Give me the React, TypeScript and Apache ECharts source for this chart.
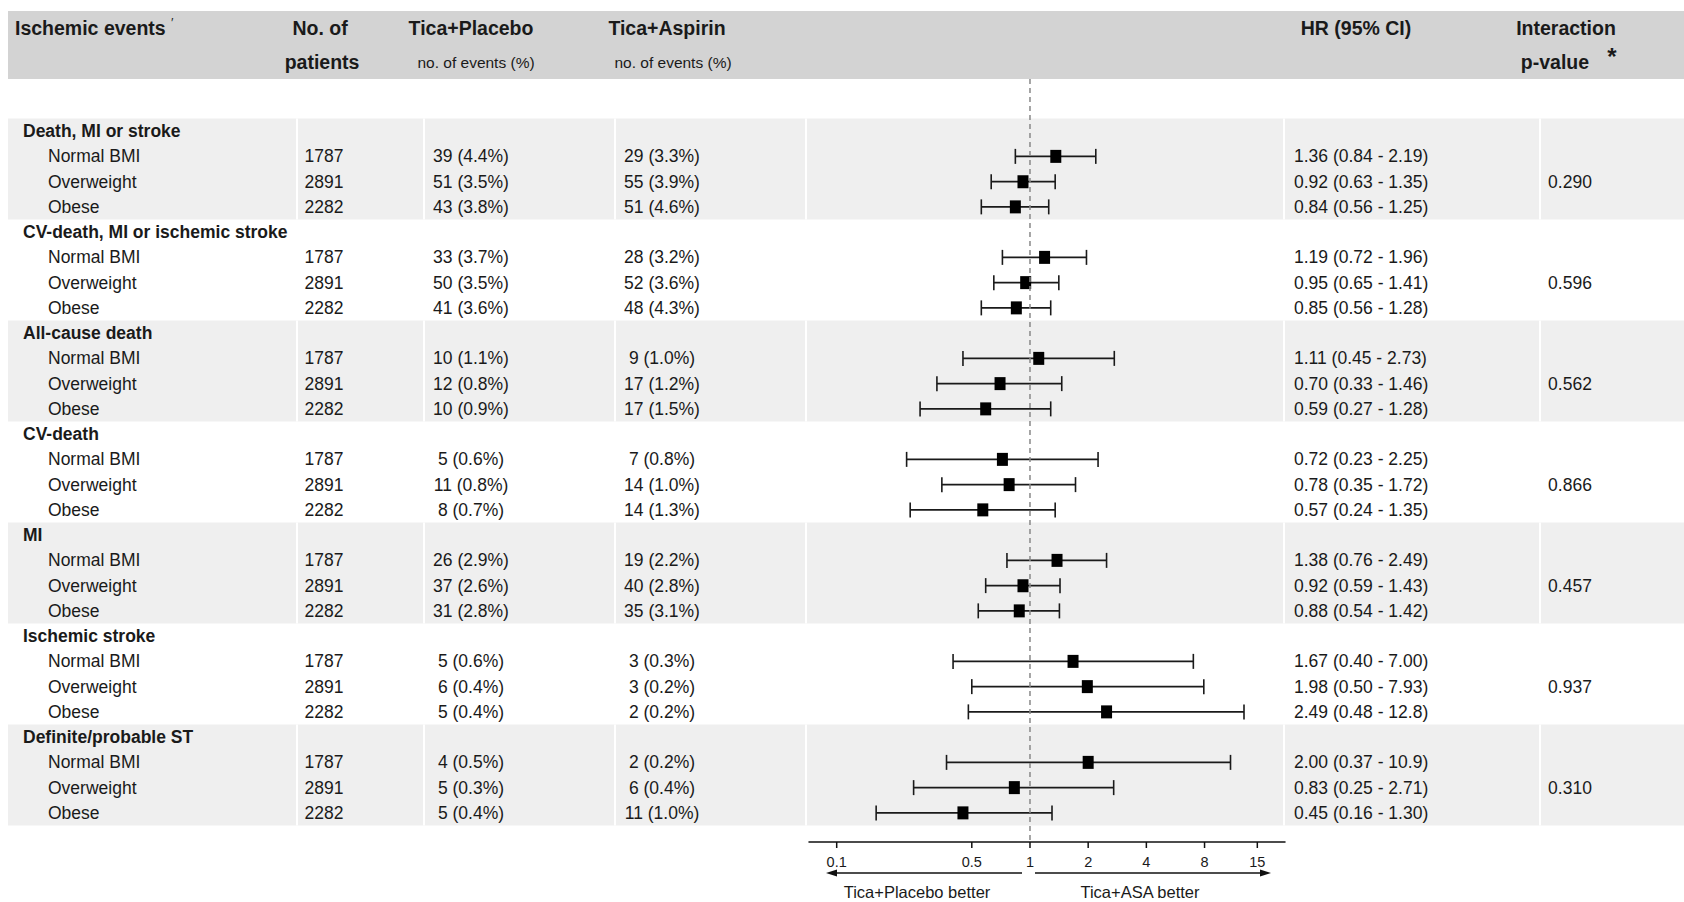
import React, { useEffect, useRef } from "react";
import * as echarts from "echarts";

// ---------------- DATA ----------------
const GROUPS = [
  "Death, MI or stroke",
  "CV-death, MI or ischemic stroke",
  "All-cause death",
  "CV-death",
  "MI",
  "Ischemic stroke",
  "Definite/probable ST",
];
const SUBGROUPS = ["Normal BMI", "Overweight", "Obese"];
const PATIENTS = [1787, 2891, 2282];

const PLACEBO_N = [[39, 51, 43], [33, 50, 41], [10, 12, 10], [5, 11, 8], [26, 37, 31], [5, 6, 5], [4, 5, 5]];
const PLACEBO_PCT = [[4.4, 3.5, 3.8], [3.7, 3.5, 3.6], [1.1, 0.8, 0.9], [0.6, 0.8, 0.7], [2.9, 2.6, 2.8], [0.6, 0.4, 0.4], [0.5, 0.3, 0.4]];
const ASPIRIN_N = [[29, 55, 51], [28, 52, 48], [9, 17, 17], [7, 14, 14], [19, 40, 35], [3, 3, 2], [2, 6, 11]];
const ASPIRIN_PCT = [[3.3, 3.9, 4.6], [3.2, 3.6, 4.3], [1.0, 1.2, 1.5], [0.8, 1.0, 1.3], [2.2, 2.8, 3.1], [0.3, 0.2, 0.2], [0.2, 0.4, 1.0]];

const HR = [[1.36, 0.92, 0.84], [1.19, 0.95, 0.85], [1.11, 0.70, 0.59], [0.72, 0.78, 0.57], [1.38, 0.92, 0.88], [1.67, 1.98, 2.49], [2.00, 0.83, 0.45]];
const HR_LO = [[0.84, 0.63, 0.56], [0.72, 0.65, 0.56], [0.45, 0.33, 0.27], [0.23, 0.35, 0.24], [0.76, 0.59, 0.54], [0.40, 0.50, 0.48], [0.37, 0.25, 0.16]];
const HR_HI = [[2.19, 1.35, 1.25], [1.96, 1.41, 1.28], [2.73, 1.46, 1.28], [2.25, 1.72, 1.35], [2.49, 1.43, 1.42], [7.00, 7.93, 12.8], [10.9, 2.71, 1.30]];

const P_INTERACTION = ["0.290", "0.596", "0.562", "0.866", "0.457", "0.937", "0.310"];

const TICKS = [0.1, 0.5, 1, 2, 4, 8, 15];
const SHADED_GROUPS = [0, 2, 4, 6];

// ---------------- LAYOUT ----------------
const W = 1684;
const H = 902;
const FONT = "'Liberation Sans', Arial, Helvetica, sans-serif";
const TXT = "#1a1a1a";
const GRID_LEFT = 809;
const GRID_W = 476;
const GRID_TOP = 118.5;
const ROW_H = 25.25;
const GRID_H = ROW_H * 28;
const AXIS_OFFSET = 16.5;
const AXIS_Y = GRID_TOP + GRID_H + AXIS_OFFSET;
const HEADER_TOP = 11;
const HEADER_H = 68;
const HEADER_BOTTOM = HEADER_TOP + HEADER_H;
const BAND_LEFT = 8;
const SEPARATORS = [297, 424, 615, 806, 1284, 1540];
const ROW_FONT = 17.5;

type Row = { kind: "group" | "sub"; g: number; s: number };
const ROWS: Row[] = [];
GROUPS.forEach((_, g) => {
  ROWS.push({ kind: "group", g, s: -1 });
  SUBGROUPS.forEach((__, s) => ROWS.push({ kind: "sub", g, s }));
});

const fmtCI = (v: number) => (v >= 10 ? v.toFixed(1) : v.toFixed(2));

function buildOption(): any {
  const rowLabels = ROWS.map((r) => (r.kind === "group" ? GROUPS[r.g] : GROUPS[r.g] + " / " + SUBGROUPS[r.s]));

  const forestData: number[][] = [];
  ROWS.forEach((r, i) => {
    if (r.kind === "sub") forestData.push([i, HR[r.g][r.s], HR_LO[r.g][r.s], HR_HI[r.g][r.s]]);
  });

  const txt = (text: string, x: number, y: number, align: string, opts: any = {}) => ({
    type: "text",
    x,
    y,
    style: {
      text,
      fill: TXT,
      fontSize: opts.size || ROW_FONT,
      fontFamily: FONT,
      fontWeight: opts.bold ? "bold" : "normal",
      align,
      verticalAlign: "middle",
    },
  });

  const header: any[] = [
    { type: "rect", shape: { x: BAND_LEFT, y: HEADER_TOP, width: W - BAND_LEFT, height: HEADER_H }, style: { fill: "#d3d3d3" }, z: 0 },
    txt("Ischemic events", 15, 28, "left", { bold: true, size: 19.5 }),
    txt("\u2032", 171, 22, "left", { size: 13 }),
    txt("No. of", 320, 28, "center", { bold: true, size: 19.5 }),
    txt("patients", 322, 62, "center", { bold: true, size: 19.5 }),
    txt("Tica+Placebo", 471, 28, "center", { bold: true, size: 19.5 }),
    txt("no. of events (%)", 476, 62, "center", { size: 15.5 }),
    txt("Tica+Aspirin", 667, 28, "center", { bold: true, size: 19.5 }),
    txt("no. of events (%)", 673, 62, "center", { size: 15.5 }),
    txt("HR (95% CI)", 1356, 28, "center", { bold: true, size: 19.5 }),
    txt("Interaction", 1566, 28, "center", { bold: true, size: 19.5 }),
    txt("p-value", 1555, 62, "center", { bold: true, size: 19.5 }),
    txt("*", 1612, 56, "center", { bold: true, size: 24 }),
    // arrows under the axis
    { type: "line", shape: { x1: 1022, y1: 873, x2: 830, y2: 873 }, style: { stroke: "#111", lineWidth: 1.5 } },
    { type: "polygon", shape: { points: [[826, 873], [837, 869.5], [837, 876.5]] }, style: { fill: "#111" } },
    { type: "line", shape: { x1: 1035, y1: 873, x2: 1267, y2: 873 }, style: { stroke: "#111", lineWidth: 1.5 } },
    { type: "polygon", shape: { points: [[1271, 873], [1260, 869.5], [1260, 876.5]] }, style: { fill: "#111" } },
    txt("Tica+Placebo better", 917, 892, "center", { size: 16.5 }),
    txt("Tica+ASA better", 1140, 892, "center", { size: 16.5 }),
  ];

  return {
    animation: false,
    backgroundColor: "#ffffff",
    graphic: { elements: header },
    grid: { left: GRID_LEFT, top: GRID_TOP, width: GRID_W, height: GRID_H, containLabel: false, outerBoundsMode: "none" },
    xAxis: {
      type: "log",
      logBase: 10,
      min: 0.0719,
      max: 20.86,
      offset: AXIS_OFFSET,
      axisLine: { show: true, lineStyle: { color: "#111", width: 1.5 } },
      axisTick: { show: false },
      axisLabel: { show: false },
      splitLine: { show: false },
    },
    yAxis: { type: "category", data: rowLabels, inverse: true, show: false },
    series: [
      {
        type: "custom",
        name: "bands",
        silent: true,
        clip: false,
        z: 1,
        data: SHADED_GROUPS.map((g) => [1, g * 4]),
        encode: { x: 0, y: 1 },
        renderItem: (params: any, api: any) => {
          const r0 = api.value(1);
          const yc = api.coord([1, r0])[1];
          const step = api.coord([1, r0 + 1])[1] - yc;
          const yTop = yc - step / 2;
          const h = step * 4;
          const children: any[] = [
            { type: "rect", shape: { x: BAND_LEFT, y: yTop, width: W - BAND_LEFT, height: h }, style: { fill: "#efefef" } },
          ];
          SEPARATORS.forEach((x) =>
            children.push({ type: "rect", shape: { x: x - 1, y: yTop, width: 2, height: h }, style: { fill: "#ffffff" } })
          );
          return { type: "group", children };
        },
      },
      {
        type: "custom",
        name: "forest",
        silent: true,
        clip: false,
        z: 3,
        data: forestData,
        encode: { x: [1, 2, 3], y: 0 },
        renderItem: (params: any, api: any) => {
          const row = api.value(0);
          const c = api.coord([api.value(1), row]);
          const cl = api.coord([api.value(2), row]);
          const ch = api.coord([api.value(3), row]);
          const y = c[1];
          const stroke = "#1a1a1a";
          return {
            type: "group",
            children: [
              { type: "line", shape: { x1: cl[0], y1: y, x2: ch[0], y2: y }, style: { stroke, lineWidth: 1.8 } },
              { type: "line", shape: { x1: cl[0], y1: y - 7.5, x2: cl[0], y2: y + 7.5 }, style: { stroke, lineWidth: 1.6 } },
              { type: "line", shape: { x1: ch[0], y1: y - 7.5, x2: ch[0], y2: y + 7.5 }, style: { stroke, lineWidth: 1.6 } },
              { type: "rect", shape: { x: c[0] - 5.5, y: y - 6.5, width: 11, height: 13 }, style: { fill: "#000" }, z2: 10 },
            ],
          };
        },
      },
      {
        type: "custom",
        name: "reference",
        silent: true,
        clip: false,
        z: 4,
        data: [[1, 0]],
        encode: { x: 0, y: 1 },
        renderItem: (params: any, api: any) => {
          const x = api.coord([api.value(0), 0])[0];
          return {
            type: "line",
            shape: { x1: x, y1: HEADER_BOTTOM, x2: x, y2: AXIS_Y },
            style: { stroke: "#888888", lineWidth: 1.5, lineDash: [5, 4] },
          };
        },
      },
      {
        type: "custom",
        name: "ticks",
        silent: true,
        clip: false,
        z: 4,
        data: TICKS.map((t) => [t, 0]),
        encode: { x: 0, y: 1 },
        renderItem: (params: any, api: any) => {
          const v = api.value(0);
          const x = api.coord([v, 0])[0];
          return {
            type: "group",
            children: [
              { type: "line", shape: { x1: x, y1: AXIS_Y, x2: x, y2: AXIS_Y + 6 }, style: { stroke: "#111", lineWidth: 1.5 } },
              txt(String(v), x, AXIS_Y + 20, "center", { size: 14.5 }),
            ],
          };
        },
      },
      {
        type: "custom",
        name: "table",
        silent: true,
        clip: false,
        z: 5,
        data: ROWS.map((_, i) => [1, i]),
        encode: { x: 0, y: 1 },
        renderItem: (params: any, api: any) => {
          const i = api.value(1);
          const r = ROWS[i];
          const y = api.coord([1, i])[1];
          if (r.kind === "group") {
            return { type: "group", children: [txt(GROUPS[r.g], 23, y, "left", { bold: true })] };
          }
          const g = r.g;
          const s = r.s;
          const children: any[] = [
            txt(SUBGROUPS[s], 48, y, "left"),
            txt(String(PATIENTS[s]), 324, y, "center"),
            txt(`${PLACEBO_N[g][s]} (${PLACEBO_PCT[g][s].toFixed(1)}%)`, 471, y, "center"),
            txt(`${ASPIRIN_N[g][s]} (${ASPIRIN_PCT[g][s].toFixed(1)}%)`, 662, y, "center"),
            txt(`${HR[g][s].toFixed(2)} (${fmtCI(HR_LO[g][s])} - ${fmtCI(HR_HI[g][s])})`, 1294, y, "left"),
          ];
          if (s === 1) children.push(txt(P_INTERACTION[g], 1570, y, "center"));
          return { type: "group", children };
        },
      },
    ],
  };
}

export default function App() {
  const ref = useRef<HTMLDivElement>(null);
  useEffect(() => {
    if (!ref.current) return;
    const chart = echarts.init(ref.current, null, { renderer: "svg" });
    chart.setOption(buildOption());
    return () => chart.dispose();
  }, []);
  return (
    <div
      ref={ref}
      style={{ position: "fixed", left: 0, top: 0, width: W, height: H, background: "#ffffff" }}
    />
  );
}
